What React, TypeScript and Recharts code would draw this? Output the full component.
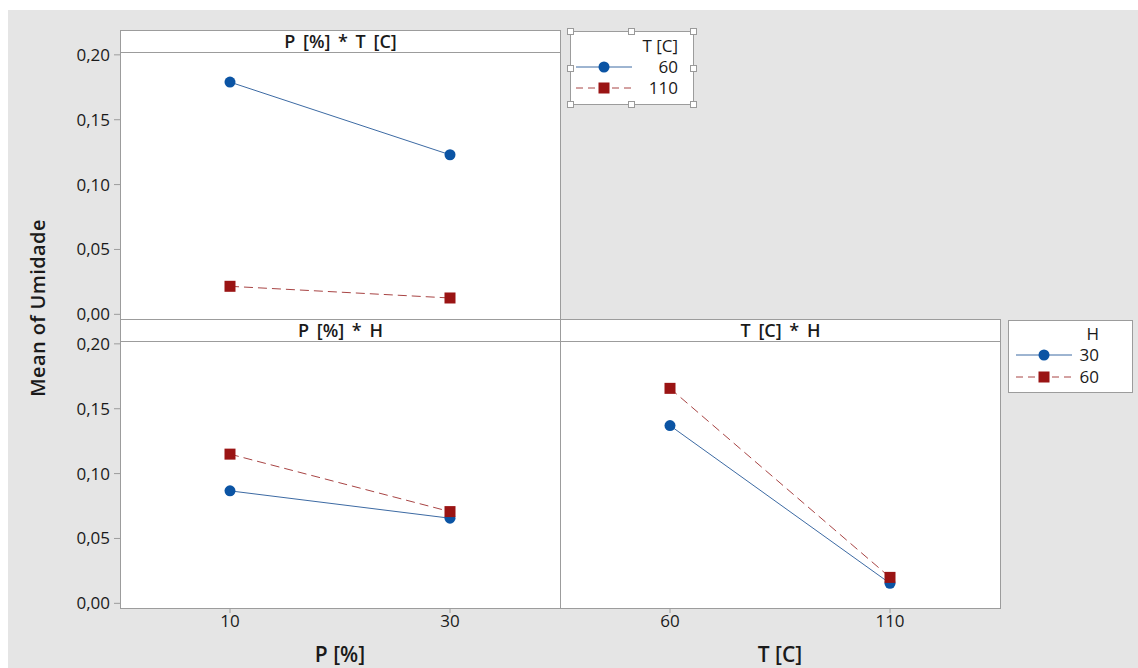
import React from 'react';
import { LineChart, Line, XAxis, YAxis } from 'recharts';

// factor levels
const pLevels = [10, 30];
const tLevels = [60, 110];
const hLevels = [30, 60];

// means of Umidade
const pByT60 = [0.179, 0.123];
const pByT110 = [0.0216, 0.0126];
const pByH30 = [0.0867, 0.0656];
const pByH60 = [0.115, 0.0707];
const tByH30 = [0.137, 0.0154];
const tByH60 = [0.1657, 0.02];

const yTicks = [0, 0.05, 0.1, 0.15, 0.2];
const yDomain: [number, number] = [-0.0036, 0.2022];

const BLUE = '#0b54a4';
const BLUE_LINE = '#3c6aa3';
const RED = '#9a1414';
const RED_LINE = '#a84444';
const FONT = '"Open Sans", "Noto Sans", sans-serif';
const BORDER = '#9c9c9c';
const INK = '#1a1a1a';

const rows = (xs: number[], a: number[], b: number[]) =>
  xs.map((x, i) => ({ x, a: a[i], b: b[i] }));

const pt = rows(pLevels, pByT60, pByT110);
const ph = rows(pLevels, pByH30, pByH60);
const th = rows(tLevels, tByH30, tByH60);

const fmt = (v: number) => v.toFixed(2).replace('.', ',');

const CircleDot = (props: any) => {
  const { cx, cy, index } = props;
  return <circle key={'c' + index} cx={cx} cy={cy} r={5.5} fill={BLUE} />;
};

const SquareDot = (props: any) => {
  const { cx, cy, index } = props;
  return <rect key={'s' + index} x={cx - 5.5} y={cy - 5.5} width={11} height={11} fill={RED} />;
};

const tickStyle = { fill: INK, fontSize: 17, fontFamily: FONT };

function Panel({ left, top, title }: { left: number; top: number; title: string }) {
  return (
    <div
      style={{
        position: 'absolute',
        left,
        top,
        width: 441,
        height: 290,
        boxSizing: 'border-box',
        border: `1px solid ${BORDER}`,
        background: '#fff',
      }}
    >
      <div
        style={{
          height: 21,
          borderBottom: `1px solid ${BORDER}`,
          textAlign: 'center',
          fontFamily: FONT,
          fontWeight: 600,
          fontSize: 18,
          wordSpacing: 3,
          lineHeight: '21px',
          color: INK,
          whiteSpace: 'nowrap',
        }}
      >
        {title}
      </div>
    </div>
  );
}

function Handle({ x, y }: { x: number; y: number }) {
  return (
    <div
      style={{
        position: 'absolute',
        left: x - 3,
        top: y - 3,
        width: 5,
        height: 5,
        border: '1px solid #9a9a9a',
        background: '#fff',
      }}
    />
  );
}

function LegendSample({ red }: { red?: boolean }) {
  return (
    <svg width={56} height={12} style={{ display: 'block' }}>
      <line
        x1={0}
        x2={56}
        y1={6}
        y2={6}
        stroke={red ? RED_LINE : BLUE_LINE}
        strokeWidth={1}
        strokeDasharray={red ? '7 5' : undefined}
      />
      {red ? (
        <rect x={22.5} y={0.5} width={11} height={11} fill={RED} />
      ) : (
        <circle cx={28} cy={6} r={5.5} fill={BLUE} />
      )}
    </svg>
  );
}

function Legend({
  left,
  top,
  width,
  height,
  title,
  levels,
  rowY,
  sampleX,
  textRight,
}: {
  left: number;
  top: number;
  width: number;
  height: number;
  title: string;
  levels: number[];
  rowY: number[];
  sampleX: number;
  textRight: number;
}) {
  const txt: React.CSSProperties = {
    position: 'absolute',
    right: width - textRight,
    fontFamily: FONT,
    fontSize: 17,
    lineHeight: '20px',
    color: INK,
    whiteSpace: 'nowrap',
  };
  return (
    <div
      style={{
        position: 'absolute',
        left,
        top,
        width,
        height,
        boxSizing: 'border-box',
        border: `1px solid ${BORDER}`,
        background: '#fff',
      }}
    >
      <div style={{ ...txt, top: rowY[0] - 10, fontWeight: 500 }}>{title}</div>
      {levels.map((lv, i) => (
        <React.Fragment key={lv}>
          <div style={{ position: 'absolute', left: sampleX, top: rowY[i + 1] - 6 }}>
            <LegendSample red={i === 1} />
          </div>
          <div style={{ ...txt, top: rowY[i + 1] - 10 }}>{lv}</div>
        </React.Fragment>
      ))}
    </div>
  );
}

export default function App() {
  const xLabel = (value: string) => ({
    value,
    position: 'insideBottom' as const,
    offset: 6,
    style: { fill: INK, fontSize: 21, fontWeight: 600, fontFamily: FONT },
  });

  const yAxisProps = {
    width: 60,
    domain: yDomain,
    ticks: yTicks,
    interval: 0 as const,
    allowDataOverflow: true,
    axisLine: false,
    tickSize: 6,
    tickMargin: 4,
    tickLine: { stroke: BORDER },
    tickFormatter: fmt,
    tick: tickStyle,
  };

  const xAxisProps = {
    type: 'number' as const,
    dataKey: 'x',
    interval: 0 as const,
    height: 60,
    axisLine: false,
    tickSize: 5,
    tickMargin: 2,
    tickLine: { stroke: BORDER },
    tick: tickStyle,
  };

  const series = [
    <Line
      key="a"
      dataKey="a"
      stroke={BLUE_LINE}
      strokeWidth={1}
      dot={CircleDot}
      activeDot={false}
      isAnimationActive={false}
    />,
    <Line
      key="b"
      dataKey="b"
      stroke={RED_LINE}
      strokeWidth={1}
      strokeDasharray="9 5"
      dot={SquareDot}
      activeDot={false}
      isAnimationActive={false}
    />,
  ];

  return (
    <div style={{ position: 'absolute', left: 0, top: 0, width: 1138, height: 668, background: '#fff' }}>
      <div style={{ position: 'absolute', left: 8, top: 10, width: 1130, height: 658, background: '#e5e5e5' }} />

      <Panel left={120} top={30} title="P [%] * T [C]" />
      <Panel left={120} top={319} title="P [%] * H" />
      <Panel left={560} top={319} title="T [C] * H" />

      {/* P * T */}
      <div style={{ position: 'absolute', left: 60, top: 30 }}>
        <LineChart width={500} height={301} data={pt} margin={{ top: 22, right: 0, bottom: 12, left: 0 }}>
          <XAxis type="number" dataKey="x" domain={[0, 40]} hide />
          <YAxis {...yAxisProps} />
          {series}
        </LineChart>
      </div>

      {/* P * H */}
      <div style={{ position: 'absolute', left: 60, top: 319 }}>
        <LineChart width={500} height={349} data={ph} margin={{ top: 22, right: 0, bottom: 0, left: 0 }}>
          <XAxis {...xAxisProps} domain={[0, 40]} ticks={pLevels} label={xLabel('P [%]')} />
          <YAxis {...yAxisProps} />
          {series}
        </LineChart>
      </div>

      {/* T * H */}
      <div style={{ position: 'absolute', left: 560, top: 319 }}>
        <LineChart width={441} height={349} data={th} margin={{ top: 22, right: 1, bottom: 0, left: 0 }}>
          <XAxis {...xAxisProps} domain={[35, 135]} ticks={tLevels} label={xLabel('T [C]')} />
          <YAxis hide domain={yDomain} allowDataOverflow />
          {series}
        </LineChart>
      </div>

      <div
        style={{
          position: 'absolute',
          left: 37,
          top: 308,
          transform: 'translate(-50%, -50%) rotate(-90deg)',
          fontFamily: FONT,
          fontSize: 20,
          letterSpacing: 0.4,
          fontWeight: 600,
          color: INK,
          whiteSpace: 'nowrap',
        }}
      >
        Mean of Umidade
      </div>

      <Legend
        left={570}
        top={31}
        width={124}
        height={74}
        title="T [C]"
        levels={tLevels}
        rowY={[14, 35, 56]}
        sampleX={5}
        textRight={109}
      />
      {[
        [570, 31],
        [631, 31],
        [693, 31],
        [570, 68],
        [693, 68],
        [570, 104],
        [631, 104],
        [693, 104],
      ].map(([x, y]) => (
        <Handle key={`${x}-${y}`} x={x} y={y} />
      ))}

      <Legend
        left={1008}
        top={320}
        width={125}
        height={73}
        title="H"
        levels={hLevels}
        rowY={[13, 34, 56]}
        sampleX={7}
        textRight={92}
      />
    </div>
  );
}
